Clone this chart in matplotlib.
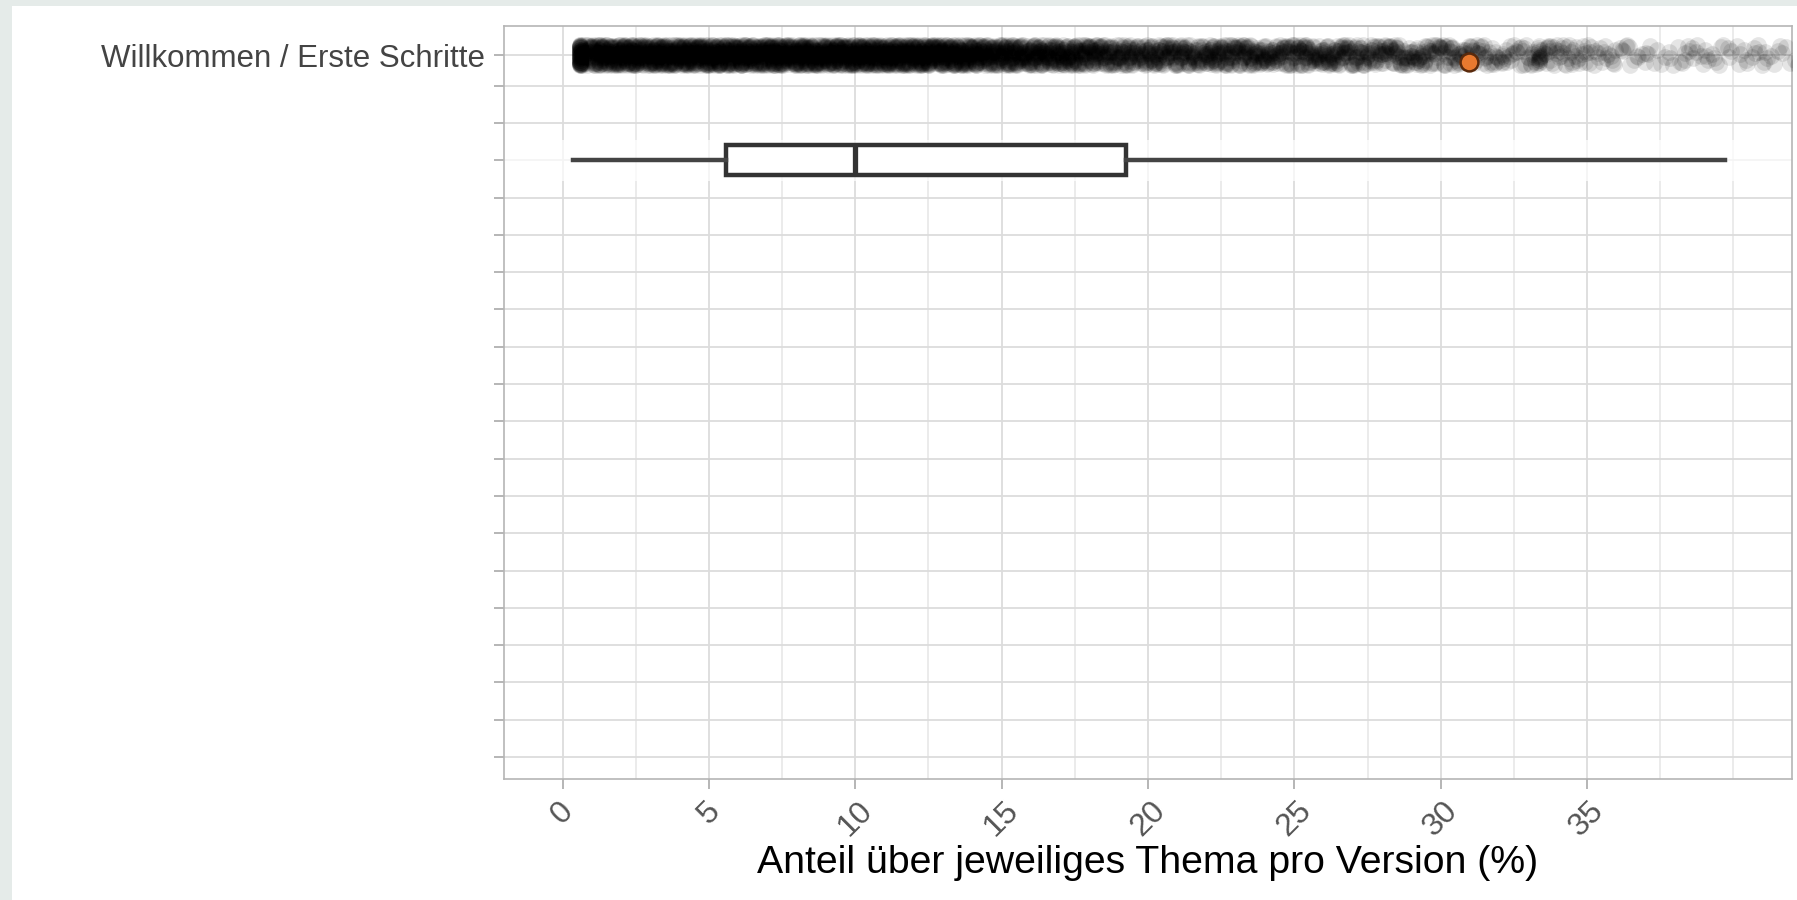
import numpy as np
import matplotlib
matplotlib.use('Agg')
import matplotlib.pyplot as plt
from matplotlib.patches import Rectangle

plt.rcParams['font.family'] = ['Liberation Sans', 'DejaVu Sans']

# y-Achse: nur das oberste Thema ist beschriftet
topics = [''] * 19 + ['Willkommen / Erste Schritte']
box_row = 16

# Boxplot-Kennzahlen (%)
box_stats = {'whislo': 0.36, 'q1': 5.57, 'med': 10.0, 'q3': 19.25, 'whishi': 39.7}

# Punktdichte des Streifens: Anzahl Punkte je 1%-Intervall (0..42)
strip_counts = [90, 150, 150, 150, 150, 150, 150, 150, 150, 150, 150, 150, 150, 135,
                115, 105, 100, 95, 80, 70, 72, 65, 72, 68, 60, 64, 60, 52,
                50, 46, 40, 30, 25, 30, 25, 19, 12, 10, 13, 12, 12, 10, 9]
# mehrfach vorkommender Wert (dunkler Fleck bei ~33 %)
stacked_x = [33.35, 33.35, 33.35, 33.35, 33.35, 33.35, 33.35, 33.35]
# feste Streu-Muster innerhalb eines Intervalls
x_frac = [0.03, 0.52, 0.27, 0.81, 0.14, 0.66, 0.39, 0.93, 0.08, 0.58, 0.33, 0.74,
          0.19, 0.47, 0.88, 0.11, 0.62, 0.36, 0.97, 0.23, 0.71, 0.44, 0.85]
y_jit = [-0.21, 0.08, 0.24, -0.05, 0.15, -0.26, 0.02, 0.19, -0.13, 0.26, -0.18,
         0.11, -0.02, 0.22, -0.09, 0.05, -0.24]

# hervorgehobener Punkt
highlight_x = 30.96
highlight_dy = -0.19

xticks = [0, 5, 10, 15, 20, 25, 30, 35]

# Zeilenpositionen; die Beschriftungszeile sitzt im Original etwas tiefer
row_y = np.arange(len(topics), dtype=float)
row_y[-1] = 18.82

fig = plt.figure(figsize=(17.97, 9.0), dpi=100)
fig.patch.set_facecolor('#e5ebe9')
fig.add_artist(Rectangle((12 / 1797, 0), 1, 1 - 6 / 900, transform=fig.transFigure,
                         facecolor='white', edgecolor='none', zorder=-1))

ax = fig.add_axes([0.2805, 0.1344, 0.7167, 0.8367])

# Streifen
xs, ys = [], []
k = 0
for i, c in enumerate(strip_counts):
    for j in range(c):
        xs.append(i + x_frac[k % len(x_frac)])
        ys.append(row_y[-1] + y_jit[k % len(y_jit)])
        k += 1
for j, v in enumerate(stacked_x):
    xs.append(v)
    ys.append(row_y[-1] + y_jit[(2 * j) % len(y_jit)])
xs = np.clip(xs, 0.6, None)
ax.scatter(xs, ys, s=145, c='black', alpha=0.1, linewidths=0, zorder=3)

ax.scatter([highlight_x], [row_y[-1] + highlight_dy], s=165, facecolor='#e8792f',
           edgecolor='#5a2a0c', linewidths=1.8, zorder=5)

# Boxplot
ax.axhspan(box_row - 0.55, box_row + 0.55, color='white', alpha=0.7, zorder=1.5, lw=0)
ax.bxp([dict(box_stats, fliers=[])], positions=[box_row], widths=0.8,
       orientation='horizontal', showcaps=False, patch_artist=True,
       boxprops=dict(facecolor='white', edgecolor='#333333', linewidth=3.2),
       medianprops=dict(color='#333333', linewidth=3.8),
       whiskerprops=dict(color='#444444', linewidth=3.2), zorder=4)

ax.set_xlim(-2, 42)
ax.set_ylim(-0.59, 19.6)

ax.set_yticks(row_y)
ax.set_yticklabels(topics, fontsize=22.5, color='#444444')
ax.set_xticks(xticks)
ax.set_xticklabels([str(t) for t in xticks], rotation=45, fontsize=23, color='#555555')
ax.set_xticks([2.5, 7.5, 12.5, 17.5, 22.5, 27.5, 32.5, 37.5, 40], minor=True)
ax.tick_params(axis='both', which='major', length=7, width=1.4, color='#b5b5b5', pad=7)
ax.tick_params(axis='x', which='major', pad=5)
ax.tick_params(axis='x', which='minor', length=0)

ax.grid(True, which='major', color='#dcdcdc', linewidth=1.3, zorder=0)
ax.grid(True, which='minor', axis='x', color='#e6e6e6', linewidth=1.1, zorder=0)
ax.set_axisbelow(True)

for s in ax.spines.values():
    s.set_color('#b5b5b5')
    s.set_linewidth(1.2)

ax.set_xlabel('Anteil über jeweiliges Thema pro Version (%)', fontsize=28.3, color='black', labelpad=2)

fig.savefig('out.png', dpi=100)
